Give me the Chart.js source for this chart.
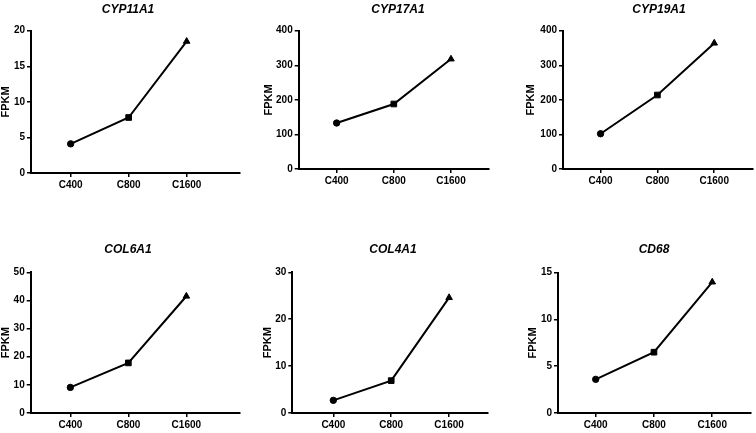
<!DOCTYPE html>
<html>
<head>
<meta charset="utf-8">
<script src="https://cdn.jsdelivr.net/npm/chart.js@4.4.1/dist/chart.umd.min.js"></script>
<style>
  html, body { margin: 0; padding: 0; background: #fff; overflow: hidden; }
  #wrap { position: relative; width: 756px; height: 433px; }
  canvas { position: absolute; }
</style>
</head>
<body>
<div id="wrap"></div>
<script>
// data
const categories = ["C400", "C800", "C1600"];
const genes = ["CYP11A1", "CYP17A1", "CYP19A1", "COL6A1", "COL4A1", "CD68"];
const cyp11a1 = [4.1, 7.8, 18.5];
const cyp17a1 = [133, 188, 318];
const cyp19a1 = [102, 214, 364];
const col6a1 = [9.1, 17.8, 41.5];
const col4a1 = [2.7, 6.9, 24.6];
const cd68 = [3.6, 6.5, 14.0];
const seriesValues = [cyp11a1, cyp17a1, cyp19a1, col6a1, col4a1, cd68];
const yMaxes = [20, 400, 400, 50, 30, 15];
const ySteps = [5, 100, 100, 10, 10, 5];
const yTitle = "FPKM";

// where each panel sits on the page (px)
const layout = [
  { rowTop: 0,   axisX: 31,    top: 30.7,  zero: 172.7, end: 240,   xMin: -0.684, xMax: 2.92, titleX: 128,   titleY: 9.3, yTitleX: 6 },
  { rowTop: 0,   axisX: 298.7, top: 30.7,  zero: 169.3, end: 488.7, xMin: -0.664, xMax: 2.66, titleX: 398,   titleY: 9.3, yTitleX: 268.7 },
  { rowTop: 0,   axisX: 562.7, top: 30.7,  zero: 169.3, end: 752,   xMin: -0.661, xMax: 2.67, titleX: 658.7, titleY: 9.3, yTitleX: 530.7 },
  { rowTop: 215, axisX: 31,    top: 272.3, zero: 413.3, end: 240,   xMin: -0.684, xMax: 2.92, titleX: 128.3, titleY: 250, yTitleX: 6 },
  { rowTop: 215, axisX: 292,   top: 272.3, zero: 413.3, end: 487,   xMin: -0.709, xMax: 2.66, titleX: 392.7, titleY: 250, yTitleX: 268 },
  { rowTop: 215, axisX: 558,   top: 272.7, zero: 413.3, end: 750.7, xMin: -0.647, xMax: 2.66, titleX: 654,   titleY: 250, yTitleX: 533.3 },
];

const FONT = "'Liberation Sans', Arial, sans-serif";
const CANVAS_W = 300;
const X_AXIS_H = 30;

// center the title block on a given x (canvas coords) instead of the padded width
const titleCenter = {
  id: "titleCenter",
  afterLayout(chart, args, opts) {
    const t = chart.titleBlock;
    if (!t) return;
    t.left = opts.x - 100;
    t.right = opts.x + 100;
    t.width = 200;
  },
};

const wrap = document.getElementById("wrap");

genes.forEach((gene, i) => {
  const L = layout[i];
  const left = L.titleX - CANVAS_W / 2;
  const height = L.zero + X_AXIS_H - L.rowTop;

  const canvas = document.createElement("canvas");
  canvas.width = CANVAS_W;
  canvas.height = Math.round(height);
  canvas.style.left = left + "px";
  canvas.style.top = L.rowTop + "px";
  wrap.appendChild(canvas);

  const titleSize = 12;
  const titlePadTop = L.titleY - L.rowTop - titleSize * 1.2 / 2;
  const titlePadBottom = L.top - L.rowTop - titlePadTop - titleSize * 1.2;
  const yTitleSize = 11;

  new Chart(canvas, {
    type: "line",
    data: {
      datasets: [
        {
          data: seriesValues[i].map((v, k) => ({ x: k, y: v })),
          borderColor: "#000",
          backgroundColor: "#000",
          borderWidth: 2,
          pointStyle: ["circle", "rect", "triangle"],
          pointRadius: [3.2, 4, 3.8],
          pointBorderWidth: 1,
          tension: 0,
        },
      ],
    },
    plugins: [titleCenter],
    options: {
      responsive: false,
      animation: false,
      devicePixelRatio: 1,
      layout: {
        padding: { left: 0, top: 0, bottom: 0, right: left + CANVAS_W - L.end },
      },
      plugins: {
        legend: { display: false },
        tooltip: { enabled: false },
        titleCenter: { x: L.titleX - left },
        title: {
          display: true,
          text: gene,
          color: "#000",
          font: { family: FONT, size: titleSize, weight: "bold", style: "italic", lineHeight: 1.2 },
          padding: { top: titlePadTop, bottom: titlePadBottom },
        },
      },
      scales: {
        x: {
          type: "linear",
          min: L.xMin,
          max: L.xMax,
          afterBuildTicks: (scale) => {
            scale.ticks = categories.map((c, k) => ({ value: k }));
          },
          afterFit: (scale) => {
            scale.height = X_AXIS_H;
          },
          border: { display: true, color: "#000", width: 2 },
          grid: { drawOnChartArea: false, drawTicks: true, tickLength: 4, color: "#000", lineWidth: 1.5 },
          ticks: {
            callback: (v) => categories[v] ?? "",
            color: "#000",
            font: { family: FONT, size: 10, weight: "bold" },
            padding: 2,
            maxRotation: 0,
            autoSkip: false,
          },
        },
        y: {
          min: 0,
          max: yMaxes[i],
          afterFit: (scale) => {
            scale.width = L.axisX - left;
          },
          border: { display: true, color: "#000", width: 2 },
          grid: { drawOnChartArea: false, drawTicks: true, tickLength: 4, color: "#000", lineWidth: 1.5 },
          ticks: {
            stepSize: ySteps[i],
            color: "#000",
            font: { family: FONT, size: 10, weight: "bold" },
            padding: 2,
          },
          title: {
            display: true,
            text: yTitle,
            color: "#000",
            font: { family: FONT, size: yTitleSize, weight: "bold", lineHeight: 1 },
            padding: { top: L.yTitleX - left - yTitleSize / 2, bottom: 0 },
          },
        },
      },
    },
  });
});
</script>
</body>
</html>
